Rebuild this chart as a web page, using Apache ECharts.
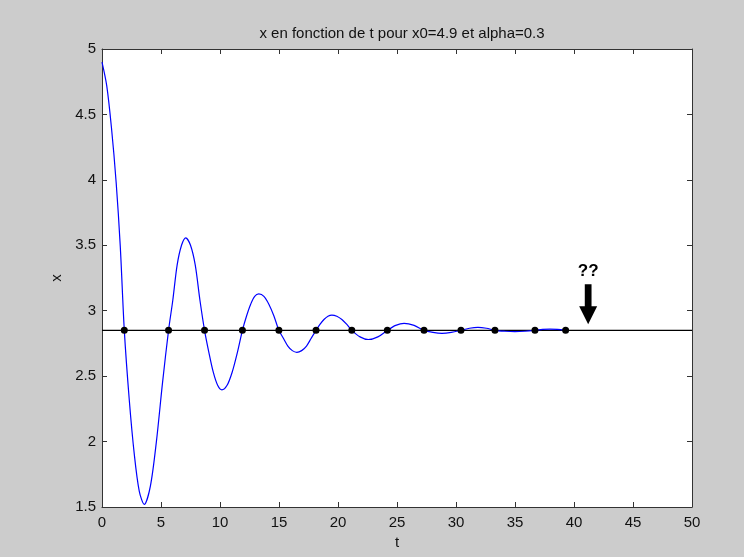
<!DOCTYPE html>
<html>
<head>
<meta charset="utf-8">
<script src="https://cdn.jsdelivr.net/npm/echarts@6/dist/echarts.min.js"></script>
<style>
  html, body { margin: 0; padding: 0; background: #cccccc; }
  #chart { width: 744px; height: 557px; }
</style>
</head>
<body>
<div id="chart"></div>
<script>
// values
var tValues = [0, 0.4, 0.8, 1.2, 1.55, 1.89, 2.31, 2.74, 3.16, 3.58,
  4.1, 4.61, 5.13, 5.64, 6.0, 6.37, 6.74, 7.1,
  7.5, 7.9, 8.3, 8.69, 9.06, 9.43, 9.8, 10.16,
  10.6, 11.03, 11.47, 11.9, 12.25, 12.6, 12.94, 13.29,
  13.72, 14.14, 14.57, 14.99, 15.37, 15.75, 16.13, 16.51,
  16.92, 17.33, 17.73, 18.14, 18.47, 18.81, 19.15, 19.48,
  19.9, 20.33, 20.75, 21.17, 21.87, 22.57, 23.38, 24.18,
  24.89, 25.6, 26.45, 27.29, 28.05, 28.81, 29.6, 30.42,
  31.14, 31.86, 32.58, 33.3, 34.14, 34.99, 35.84, 36.69,
  37.33, 37.96, 38.6, 39.29];
var xValues = [4.9, 4.72, 4.4, 3.98, 3.49, 2.85, 2.32, 1.9, 1.62, 1.52,
  1.66, 2.0, 2.45, 2.85, 3.08, 3.35, 3.5, 3.557,
  3.5, 3.35, 3.08, 2.85, 2.68, 2.53, 2.43, 2.395,
  2.43, 2.53, 2.68, 2.85, 2.96, 3.05, 3.11, 3.128,
  3.11, 3.05, 2.96, 2.85, 2.79, 2.73, 2.695, 2.682,
  2.695, 2.73, 2.79, 2.85, 2.895, 2.933, 2.958, 2.967,
  2.958, 2.933, 2.895, 2.85, 2.80, 2.78, 2.80, 2.85,
  2.888, 2.904, 2.888, 2.85, 2.834, 2.827, 2.834, 2.85,
  2.866, 2.873, 2.866, 2.85, 2.843, 2.84, 2.843, 2.85,
  2.857, 2.86, 2.857, 2.85];
var crossT = [1.89, 5.64, 8.69, 11.9, 14.99, 18.14, 21.17, 24.18, 27.29, 30.42, 33.3, 36.69, 39.29];
var equilibrium = 2.85;
var arrowAt = [41.2, 3.05];
var xTicks = [0, 5, 10, 15, 20, 25, 30, 35, 40, 45, 50];
var yTicks = [1.5, 2, 2.5, 3, 3.5, 4, 4.5, 5];

var font = 'Liberation Sans, Arial, sans-serif';
var chart = echarts.init(document.getElementById('chart'));

var curve = tValues.map(function (t, i) { return [t, xValues[i]]; });
var dots = crossT.map(function (t) { return [t, equilibrium]; });

function tickAxis(extra) {
  return Object.assign({
    type: 'value',
    axisLine: { show: true, onZero: false, lineStyle: { color: '#333', width: 1 } },
    axisTick: { show: true, inside: true, length: 5, lineStyle: { color: '#333' } },
    splitLine: { show: false },
    axisLabel: { show: false }
  }, extra);
}

chart.setOption({
  backgroundColor: '#cccccc',
  animation: false,
  title: {
    text: 'x en fonction de t pour x0=4.9 et alpha=0.3',
    left: 397, top: 21, textAlign: 'center',
    textStyle: { fontFamily: font, fontSize: 15, fontWeight: 'normal', color: '#111' }
  },
  grid: { left: 102, right: 52, top: 49, bottom: 50, show: true, backgroundColor: '#ffffff', borderWidth: 0 },
  xAxis: [
    tickAxis({
      min: 0, max: 50, interval: 5, position: 'bottom',
      name: 't', nameLocation: 'middle', nameGap: 28,
      nameTextStyle: { fontFamily: font, fontSize: 15, color: '#111' },
      axisLabel: { show: true, fontFamily: font, fontSize: 15, color: '#111', margin: 8,
        formatter: function (v) { return xTicks.indexOf(v) >= 0 ? String(v) : ''; } }
    }),
    tickAxis({ min: 0, max: 50, interval: 5, position: 'top' })
  ],
  yAxis: [
    tickAxis({
      min: 1.5, max: 5, interval: 0.5, position: 'left',
      name: 'x', nameLocation: 'middle', nameGap: 38, nameRotate: 90,
      nameTextStyle: { fontFamily: font, fontSize: 15, color: '#111' },
      axisLabel: { show: true, fontFamily: font, fontSize: 15, color: '#111', margin: 6,
        formatter: function (v) { return yTicks.indexOf(v) >= 0 ? String(v) : ''; } }
    }),
    tickAxis({ min: 1.5, max: 5, interval: 0.5, position: 'right' })
  ],
  series: [
    {
      type: 'line', data: [[0, equilibrium], [50, equilibrium]],
      symbol: 'none', lineStyle: { color: '#000', width: 1.2 }, z: 2
    },
    {
      type: 'line', data: curve, smooth: 0.3, symbol: 'none',
      lineStyle: { color: '#0000ff', width: 1.2 }, z: 3
    },
    {
      type: 'scatter', data: dots, symbol: 'circle', symbolSize: 7,
      itemStyle: { color: '#000', opacity: 1 }, z: 4
    },
    {
      type: 'scatter', data: [arrowAt],
      symbol: 'path://M3,0 L9,0 L9,22 L14,22 L6,40 L-2,22 L3,22 Z',
      symbolSize: [18, 40], symbolKeepAspect: false,
      itemStyle: { color: '#000', opacity: 1 }, z: 5,
      label: { show: true, position: 'top', distance: 4, formatter: '??',
        fontFamily: font, fontSize: 17, fontWeight: 'bold', color: '#000' }
    }
  ]
});
</script>
</body>
</html>
